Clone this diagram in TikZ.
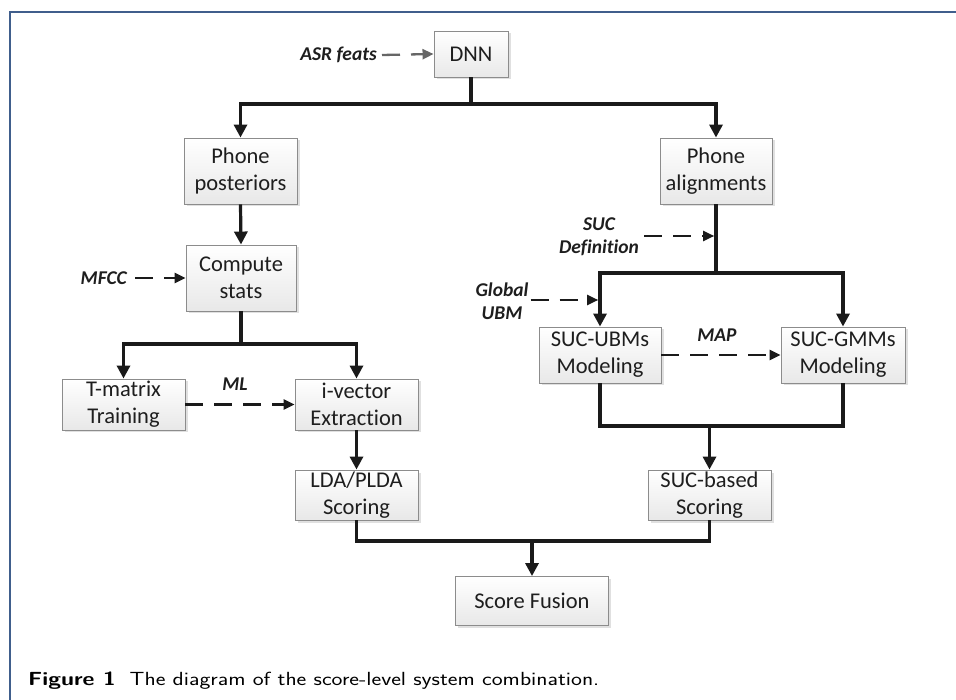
\documentclass[tikz,border=0pt]{standalone}
\usepackage{fontspec}
\setmainfont{Carlito}[Ligatures={NoCommon}]
\usetikzlibrary{arrows.meta,shadows,calc}
\definecolor{framec}{RGB}{64,94,140}
\definecolor{linec}{RGB}{26,26,26}
\definecolor{boxborder}{RGB}{140,140,140}
\definecolor{txt}{RGB}{30,30,30}
\tikzset{
  box/.style={draw=boxborder, line width=0.9pt, top color=white, bottom color=black!9,
    text=txt, align=center, inner sep=0pt,
    font=\fontsize{22.5}{27}\selectfont,
    drop shadow={shadow xshift=2.5pt, shadow yshift=-2.5pt, fill=black!12, opacity=1}},
  lbl/.style={text=txt, align=center, inner sep=2pt, font=\fontsize{19.5}{23.5}\selectfont\bfseries\itshape},
  conn/.style={draw=linec, line width=3.2pt},
  arr/.style={conn, -{Triangle[length=13pt,width=13pt]}},
  darr/.style={draw=linec, line width=2.3pt, dash pattern=on 18pt off 11pt, -{Triangle[length=11pt,width=10pt]}},
  garr/.style={draw=black!60, line width=2.3pt, dash pattern=on 18pt off 11pt, -{Triangle[length=11pt,width=10pt]}},
  framel/.style={draw=framec, line width=1.5pt}
}
\begin{document}
\begin{tikzpicture}[x=1pt,y=-1pt]
\useasboundingbox (0,0) rectangle (956,700);
\draw[framel] (10,700) -- (10,12) -- (956,12);

% boxes
\node[box, minimum width=74pt, minimum height=46pt] (dnn) at (471,54) {DNN};
\node[box, minimum width=113pt, minimum height=66pt] (pp) at (240.5,171) {Phone\\posteriors};
\node[box, minimum width=110pt, minimum height=66pt] (cs) at (241,278) {Compute\\stats};
\node[box, minimum width=123pt, minimum height=51pt] (tm) at (123.5,404.5) {T-matrix\\Training};
\node[box, minimum width=123pt, minimum height=51pt] (iv) at (356.5,404.5) {i-vector\\Extraction};
\node[box, minimum width=123pt, minimum height=50pt] (lda) at (356.5,495) {LDA/PLDA\\Scoring};
\node[box, minimum width=112pt, minimum height=66pt] (pa) at (716,171) {Phone\\alignments};
\node[box, minimum width=122pt, minimum height=56pt] (ubm) at (600,355) {SUC-UBMs\\Modeling};
\node[box, minimum width=124pt, minimum height=56pt] (gmm) at (843,355) {SUC-GMMs\\Modeling};
\node[box, minimum width=123pt, minimum height=50pt] (scb) at (709.5,495) {SUC-based\\Scoring};
\node[box, minimum width=153pt, minimum height=49pt] (sf) at (532,601) {Score Fusion};

% labels
\node[lbl, anchor=east] (asr) at (379,55) {ASR feats};
\node[lbl, anchor=east] (mfcc) at (129,278) {MFCC};
\node[lbl] (ml) at (235,384) {ML};
\node[lbl] (sucdef) at (599,236.5) {SUC\\Definition};
\node[lbl] (gubm) at (502,301) {Global\\UBM};
\node[lbl] (map) at (717,335) {MAP};

% junctions
\coordinate (j1) at (471,104);
\coordinate (j2) at (241,344);
\coordinate (j3) at (716,273);
\coordinate (j4) at (709.5,426);
\coordinate (j5) at (532,541);
\coordinate (tdef) at (714.2,236);
\coordinate (tgubm) at (598.2,300);

% thick connectors
\draw[conn] (dnn.south) -- (j1);
\draw[arr] (j1) -| (pp.north);
\draw[arr] (j1) -| (pa.north);
\draw[arr] (pp.south) -- (cs.north);
\draw[conn] (cs.south) -- (j2);
\draw[arr] (j2) -| (tm.north);
\draw[arr] (j2) -| (iv.north);
\draw[arr] (iv.south) -- (lda.north);
\draw[conn] (pa.south) -- (j3);
\draw[arr] (j3) -| (ubm.north);
\draw[arr] (j3) -| (gmm.north);
\draw[conn] (ubm.south) |- (j4) -| (gmm.south);
\draw[arr] (j4) -- (scb.north);
\draw[conn] (lda.south) |- (j5) -| (scb.south);
\draw[arr] (j5) -- (sf.north);

% dashed connectors
\draw[garr] ([xshift=3pt]asr.east) -- (dnn.west);
\draw[darr] ([xshift=6pt]mfcc.east) -- (cs.west);
\draw[darr] (tm.east) -- (iv.west);
\draw[darr] (ubm.east) -- (gmm.west);
\draw[darr] ([xshift=3pt]sucdef.east |- tdef) -- (tdef);
\draw[darr] (gubm.east |- tgubm) -- (tgubm);

% caption
\node[anchor=base west, inner sep=0pt, text=black, font=\sffamily\fontsize{19}{23}\selectfont] (cap) at (28,685)
  {\scalebox{1.22}[1]{\textbf{Figure 1}\hspace{0.6em}The diagram of the score-level system combination.}};
\end{tikzpicture}
\end{document}
